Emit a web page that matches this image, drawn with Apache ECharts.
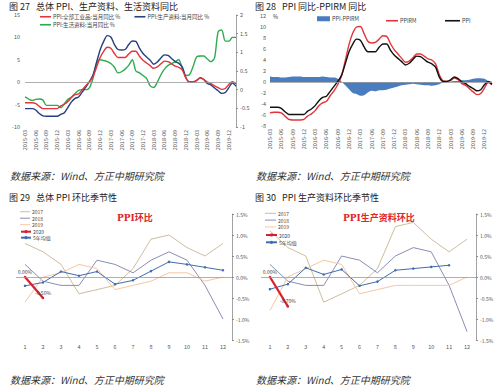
<!DOCTYPE html>
<html><head><meta charset="utf-8">
<script src="https://cdn.jsdelivr.net/npm/echarts@6/dist/echarts.min.js"></script>
<style>html,body{margin:0;padding:0;background:#fff}#c{width:500px;height:386px}</style>
</head><body><div id="c"></div>
<script>
// ---------- data ----------
const months = ['2015-03','2015-04','2015-05','2015-06','2015-07','2015-08','2015-09','2015-10','2015-11','2015-12',
'2016-01','2016-02','2016-03','2016-04','2016-05','2016-06','2016-07','2016-08','2016-09','2016-10','2016-11','2016-12',
'2017-01','2017-02','2017-03','2017-04','2017-05','2017-06','2017-07','2017-08','2017-09','2017-10','2017-11','2017-12',
'2018-01','2018-02','2018-03','2018-04','2018-05','2018-06','2018-07','2018-08','2018-09','2018-10','2018-11','2018-12',
'2019-01','2019-02','2019-03','2019-04','2019-05','2019-06','2019-07','2019-08','2019-09','2019-10','2019-11','2019-12',
'2020-01','2020-02'];
const ppiYoY = [-4.6,-4.6,-4.6,-4.8,-5.4,-5.9,-5.9,-5.9,-5.9,-5.9,
-5.3,-4.9,-4.3,-3.4,-2.8,-2.6,-1.7,-0.8,0.1,1.2,3.3,5.5,
6.9,7.8,7.6,6.4,5.5,5.5,5.5,6.3,6.9,6.9,5.8,4.9,
4.3,3.7,3.1,3.4,4.1,4.7,4.6,4.1,3.6,3.3,2.7,0.9,
0.1,0.1,0.4,0.9,0.6,0.0,-0.3,-0.8,-1.2,-1.6,-1.4,-0.5,
0.1,-0.4];
const prodYoY = [-5.9,-5.9,-5.9,-6.2,-7.0,-7.5,-7.6,-7.6,-7.6,-7.6,
-7.2,-6.8,-5.6,-4.4,-3.6,-3.3,-2.2,-1.1,0.1,1.6,4.4,7.2,
9.1,10.4,10.1,8.4,7.3,7.2,7.3,8.4,9.2,9.1,7.6,6.4,
5.6,4.9,4.0,4.5,5.4,6.1,6.0,5.3,4.6,4.2,3.4,1.0,
0.0,0.0,0.4,1.0,0.6,-0.3,-0.6,-1.3,-1.9,-2.5,-2.3,-1.2,
-0.2,-0.9];
const consYoY = [-0.19,-0.25,-0.29,-0.26,-0.25,-0.28,-0.42,-0.42,-0.42,-0.42,
-0.48,-0.38,-0.26,-0.2,-0.1,-0.02,0,0,0.05,0.3,0.7,0.8,
0.78,0.75,0.7,0.6,0.45,0.48,0.55,0.65,0.8,0.5,0.45,0.38,
0.3,0.1,0.06,0.2,0.4,0.55,0.65,0.7,0.75,0.8,0.55,0.38,
0.4,0.62,0.88,0.9,0.9,0.82,0.75,0.85,1.55,1.6,1.3,1.3,
1.4,1.4];
const ppirmYoY = [-5.6,-5.5,-5.5,-5.6,-6.2,-6.8,-6.9,-6.9,-6.9,-6.8,
-6.2,-5.8,-5.2,-4.3,-3.8,-3.5,-2.5,-1.6,-0.5,1.1,3.9,6.8,
8.9,10.0,10.1,8.8,7.4,7.1,7.2,7.8,8.4,8.3,7.0,5.9,
5.1,4.3,3.6,3.8,4.4,5.1,5.1,4.7,4.2,4.0,3.3,1.3,
0.2,0.1,0.3,0.7,0.4,-0.3,-0.6,-1.2,-1.8,-2.3,-2.1,-1.1,
-0.1,-0.5];
const spreadYoY = [1.0,0.9,0.9,0.8,0.8,0.9,1.0,1.0,1.0,0.9,
0.9,0.9,0.9,0.9,1.0,0.9,0.8,0.8,0.6,0.1,-0.6,-1.3,
-2.0,-2.2,-2.5,-2.4,-1.9,-1.6,-1.7,-1.5,-1.5,-1.4,-1.2,-1.0,
-0.8,-0.6,-0.5,-0.4,-0.3,-0.4,-0.5,-0.6,-0.6,-0.7,-0.6,-0.4,
-0.1,0.0,0.1,0.2,0.2,0.3,0.3,0.4,0.6,0.7,0.7,0.6,
0.2,0.1];

const monthNums = ['1','2','3','4','5','6','7','8','9','10','11','12'];
const ppiMoM2017 = [0.8,0.6,0.3,-0.4,-0.3,-0.2,0.2,0.9,1.0,0.7,0.5,0.8];
const ppiMoM2018 = [0.3,-0.1,-0.2,-0.2,0.4,0.3,0.1,0.4,0.6,0.4,-0.2,-1.0];
const ppiMoM2019 = [-0.6,0.0,0.1,0.3,0.2,-0.3,-0.2,-0.1,0.1,0.1,-0.1,0.0];
const ppiMoM2020 = [0.0,-0.5];
const ppiMoMAvg5 = [-0.21,-0.13,0.13,0.03,0.13,-0.17,-0.08,0.14,0.36,0.30,0.23,0.16];

const prodMoM2017 = [1.1,0.7,0.5,-0.6,-0.4,-0.2,0.2,1.2,1.3,0.9,0.6,0.9];
const prodMoM2018 = [0.3,-0.1,-0.2,-0.2,0.5,0.4,0.1,0.5,0.7,0.6,-0.2,-1.3];
const prodMoM2019 = [-0.8,0.0,0.2,0.4,0.3,-0.4,-0.3,-0.2,-0.2,-0.2,-0.2,0.0];
const prodMoM2020 = [0.0,-0.7];
const prodMoMAvg5 = [-0.29,-0.17,0.22,0.06,0.18,-0.21,-0.11,0.16,0.20,0.24,0.28,null];

const yoyTicksLeft27 = {min:-10,max:15,interval:5};
const yoyTicksRight27 = {min:-1,max:2,interval:0.5};
const yoyTicks28 = {min:-8,max:12,interval:2};
const momTicks = {min:-1.5,max:1.5,interval:0.5};

// ---------- styles ----------
const C = {red:'#E2353B', navy:'#24407F', green:'#2EAA4F', black:'#111111', area:'#4A7CC0',
  y17:'#CDBE9E', y18:'#8A8DB6', y19:'#F6C7A1', y20:'#D6202E', avg:'#3F6DAE'};
const FONT = 'Noto Sans CJK SC, Noto Sans, sans-serif';
const small = {fontSize:5.5, color:'#444', fontFamily:FONT, padding:[0,0,0,-3]};
const tiny = {fontSize:5, lineHeight:6, color:'#444', fontFamily:FONT, padding:[0,0,0,-3]};
const zeroLine = {silent:true, symbol:'none', label:{show:false}, lineStyle:{color:'#9a9a9a', width:0.8, type:'solid'}, data:[{yAxis:0}]};

function monthAxis(gi){
  return {type:'category', gridIndex:gi, data:months, boundaryGap:false,
    axisLine:{show:false, onZero:false}, axisTick:{show:false},
    axisLabel:{interval:2, rotate:90, fontSize:5.5, color:'#555', margin:3, fontFamily:FONT}};
}
function numAxis(gi){
  return {type:'category', gridIndex:gi, data:monthNums, boundaryGap:true, position:'bottom',
    axisLine:{show:false, onZero:false}, axisTick:{show:false},
    axisLabel:{fontSize:5.5, color:'#555', margin:4, fontFamily:FONT}};
}
function lineS(name, data, color, xi, yi, w, extra){
  return Object.assign({type:'line', name, data, xAxisIndex:xi, yAxisIndex:yi, symbol:'none',
    lineStyle:{color, width:w}, itemStyle:{color}}, extra||{});
}
function lineIcon(name){ return {name, icon:'rect', itemStyle:{borderWidth:0}}; }
const pct = v => v.toFixed(1) + '%';
const titleStyle = {fontSize:9, lineHeight:10, fontWeight:'normal', color:'#222'};
const srcStyle = {fontSize:10, fontStyle:'italic', fontWeight:'normal', color:'#333'};
const redTitle = {fontSize:9, fontWeight:'bold', color:'#E0252B', fontFamily:'DejaVu Serif, Noto Sans CJK SC, serif'};

const chart = echarts.init(document.getElementById('c'), null, {renderer:'svg'});
chart.setOption({
  animation:false,
  backgroundColor:'#fff',
  textStyle:{fontFamily:FONT},
  title:[
    {text:'图 27   总体 PPI、生产资料、生活资料同比', left:9, top:1, padding:0, textStyle:titleStyle},
    {text:'图 28   PPI 同比-PPIRM 同比', left:255, top:1, padding:0, textStyle:titleStyle},
    {text:'图 29   总体 PPI 环比季节性', left:9, top:192, padding:0, textStyle:titleStyle},
    {text:'图 30   PPI 生产资料环比季节性', left:255, top:192, padding:0, textStyle:titleStyle},
    {text:'数据来源：Wind、方正中期研究院', left:10, top:170, padding:0, textStyle:srcStyle},
    {text:'数据来源：Wind、方正中期研究院', left:256, top:170, padding:0, textStyle:srcStyle},
    {text:'数据来源：Wind、方正中期研究院', left:10, top:374, padding:0, textStyle:srcStyle},
    {text:'数据来源：Wind、方正中期研究院', left:256, top:374, padding:0, textStyle:srcStyle},
    {text:'PPI环比', left:117, top:213, padding:0, textStyle:redTitle},
    {text:'PPI生产资料环比', left:343, top:213, padding:0, textStyle:redTitle}
  ],
  graphic:[{type:'text', left:273, top:14, style:{text:'%', fontSize:5.5, fill:'#333', fontFamily:FONT}}],
  legend:[
    {data:[lineIcon('PPI:全部工业品:当月同比 %'), lineIcon('PPI:生产资料:当月同比 %')], left:40, top:14, padding:0, itemGap:14, itemWidth:11, itemHeight:1.6, textStyle:small},
    {data:[lineIcon('PPI:生活资料:当月同比 %')], left:40, top:22, padding:0, itemWidth:11, itemHeight:1.6, textStyle:small},
    {data:[{name:'PPI-PPIRM', icon:'rect'}], left:317, top:16, padding:0, itemWidth:13, itemHeight:5, textStyle:small},
    {data:[lineIcon('PPIRM')], left:386, top:18, padding:0, itemWidth:12, itemHeight:1.6, textStyle:small},
    {data:[lineIcon('PPI')], left:445, top:18, padding:0, itemWidth:15, itemHeight:1.6, textStyle:small},
    // chart 29 legend
    {data:[lineIcon('2017'), lineIcon('2018'), lineIcon('2019')], orient:'vertical', left:20, top:208.7, padding:0,
      itemGap:0.5, itemWidth:10, itemHeight:1, textStyle:tiny},
    {data:['2020', '5年均值'], orient:'vertical', left:20, top:228.7, padding:0,
      itemGap:0, itemWidth:10, itemHeight:4, textStyle:tiny},
    // chart 30 legend
    {data:[lineIcon('2017'), lineIcon('2018'), lineIcon('2019')], orient:'vertical', left:265, top:210.3, padding:0,
      itemGap:0.8, itemWidth:11, itemHeight:1, textStyle:tiny},
    {data:['2020', '5年均值'], orient:'vertical', left:265, top:232, padding:0,
      itemGap:1.3, itemWidth:11, itemHeight:4, textStyle:tiny}
  ],
  grid:[
    {left:25, top:15, width:211, height:112, outerBoundsMode:'none', containLabel:false},
    {left:270, top:16, width:222, height:110, outerBoundsMode:'none', containLabel:false},
    {left:16, top:214, width:216, height:126, outerBoundsMode:'none', containLabel:false},
    {left:261, top:214, width:215, height:126, outerBoundsMode:'none', containLabel:false}
  ],
  xAxis:[monthAxis(0), monthAxis(1), numAxis(2), numAxis(3)],
  yAxis:[
    Object.assign({type:'value', gridIndex:0, position:'left', axisLine:{show:false}, axisTick:{show:false}, splitLine:{show:false},
      axisLabel:{fontSize:5.5, color:'#555', margin:5}}, yoyTicksLeft27),
    Object.assign({type:'value', gridIndex:0, position:'right', axisLine:{show:true, lineStyle:{color:'#8a8a8a', width:0.8}},
      axisTick:{show:true, length:2, lineStyle:{color:'#8a8a8a'}}, splitLine:{show:false},
      axisLabel:{fontSize:5.5, color:'#555', margin:4}}, yoyTicksRight27),
    Object.assign({type:'value', gridIndex:1, position:'left', axisLine:{show:false}, axisTick:{show:false}, splitLine:{show:false},
      axisLabel:{fontSize:5.5, color:'#555', margin:4}}, yoyTicks28),
    Object.assign({type:'value', gridIndex:2, position:'right', axisLine:{show:true, lineStyle:{color:'#8a8a8a', width:0.8}},
      axisTick:{show:true, length:2, lineStyle:{color:'#8a8a8a'}}, splitLine:{show:false},
      axisLabel:{fontSize:5, color:'#555', margin:4, formatter:pct}}, momTicks),
    Object.assign({type:'value', gridIndex:3, position:'right', axisLine:{show:true, lineStyle:{color:'#8a8a8a', width:0.8}},
      axisTick:{show:true, length:2, lineStyle:{color:'#8a8a8a'}}, splitLine:{show:false},
      axisLabel:{fontSize:5, color:'#555', margin:4, formatter:pct}}, momTicks)
  ],
  series:[
    // chart 27
    lineS('PPI:生活资料:当月同比 %', consYoY, C.green, 0, 1, 1.4, {smooth:0.3}),
    lineS('PPI:生产资料:当月同比 %', prodYoY, C.navy, 0, 0, 1.4, {smooth:0.3}),
    lineS('PPI:全部工业品:当月同比 %', ppiYoY, C.red, 0, 0, 1.4, {smooth:0.3, markLine:zeroLine}),
    // chart 28
    lineS('PPI-PPIRM', spreadYoY, C.area, 1, 2, 0, {smooth:0.3, areaStyle:{color:C.area, opacity:1}, markLine:zeroLine}),
    lineS('PPIRM', ppirmYoY, C.red, 1, 2, 1.4, {smooth:0.3}),
    lineS('PPI', ppiYoY, C.black, 1, 2, 1.4, {smooth:0.3}),
    // chart 29
    lineS('2017', ppiMoM2017, C.y17, 2, 3, 1, {markLine:zeroLine}),
    lineS('2018', ppiMoM2018, C.y18, 2, 3, 1),
    lineS('2019', ppiMoM2019, C.y19, 2, 3, 1),
    lineS('5年均值', ppiMoMAvg5, C.avg, 2, 3, 1, {symbol:'circle', symbolSize:2.5}),
    lineS('2020', ppiMoM2020, C.y20, 2, 3, 2.2, {symbol:'circle', symbolSize:2.5,
      label:{show:true, position:'top', distance:2, fontSize:5, color:'#444', formatter:p=>p.value.toFixed(2)+'%'}}),
    // chart 30
    lineS('2017', prodMoM2017, C.y17, 3, 4, 1, {markLine:zeroLine}),
    lineS('2018', prodMoM2018, C.y18, 3, 4, 1),
    lineS('2019', prodMoM2019, C.y19, 3, 4, 1),
    lineS('5年均值', prodMoMAvg5, C.avg, 3, 4, 1, {symbol:'circle', symbolSize:2.5}),
    lineS('2020', prodMoM2020, C.y20, 3, 4, 2.2, {symbol:'circle', symbolSize:2.5,
      label:{show:true, position:'top', distance:2, fontSize:5, color:'#444', formatter:p=>p.value.toFixed(2)+'%'}})
  ]
});
</script>
</body></html>
